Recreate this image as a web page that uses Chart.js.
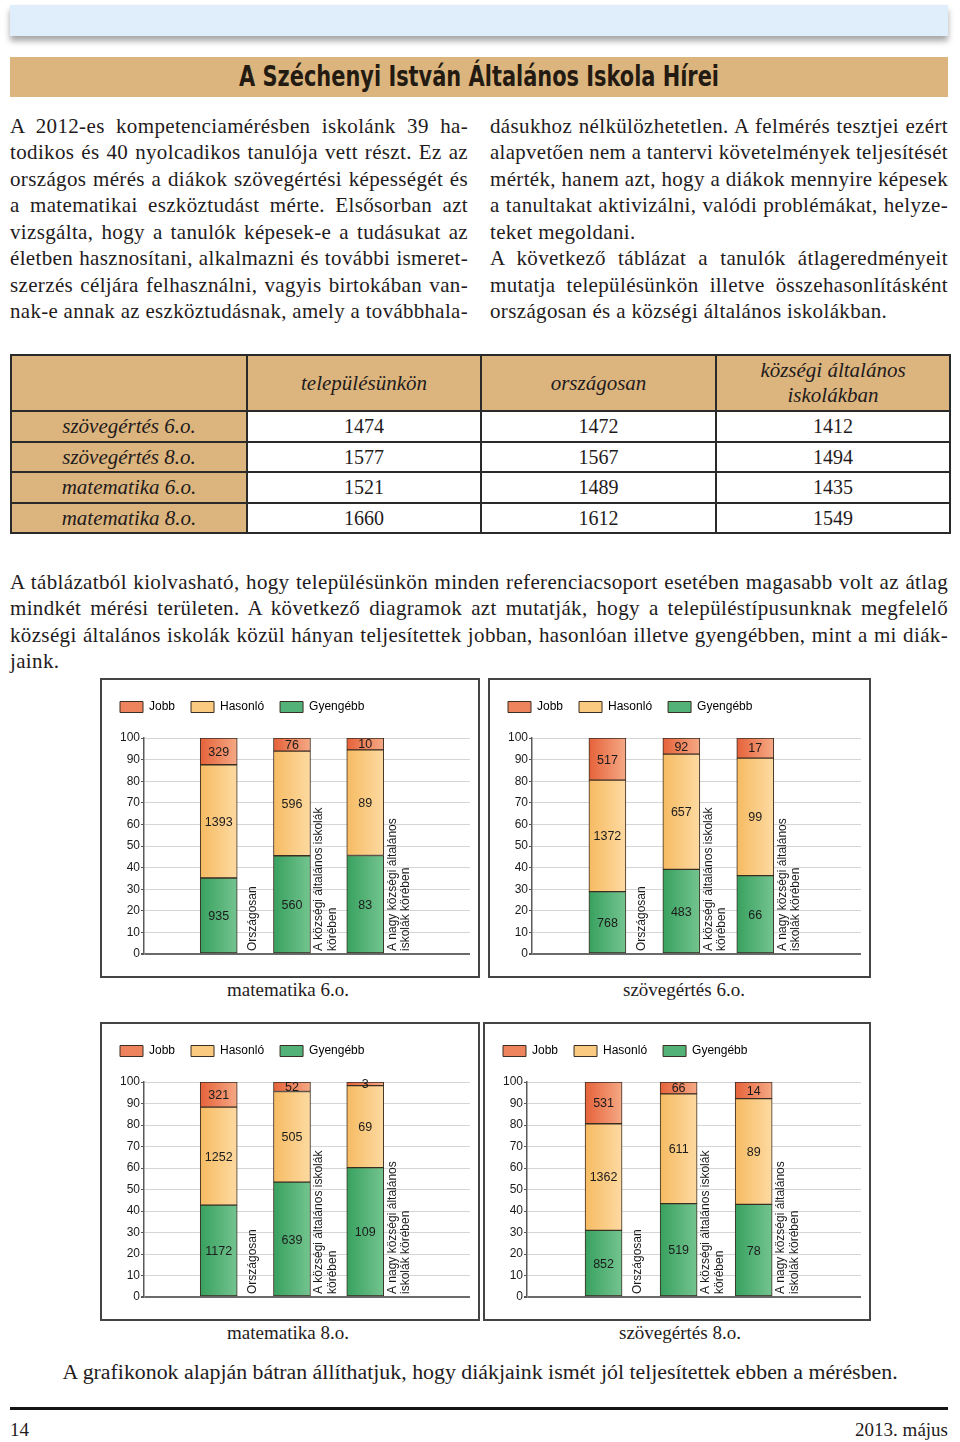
<!DOCTYPE html>
<html lang="hu">
<head>
<meta charset="utf-8"/>
<title>A Széchenyi István Általános Iskola Hírei</title>
<script src="https://cdn.jsdelivr.net/npm/chart.js"></script>
<style>
  html, body { margin: 0; padding: 0; background: #fff; }
  #page { position: relative; width: 960px; height: 1442px; overflow: hidden;
          font-family: "Liberation Serif", "DejaVu Serif", serif; color: #1f1b1c; }
  .abs { position: absolute; }
  #topbar { left: 10px; top: 5px; width: 938px; height: 31px; background: #dfeefa;
            box-shadow: 0 5px 6px rgba(0,0,0,0.35); }
  #titlebar { left: 10px; top: 57px; width: 938px; height: 40px; background: #dcb57e; text-align: center; }
  #titlebar span { font-family: "Liberation Sans Narrow", "DejaVu Sans Condensed", sans-serif; font-weight: bold;
                   font-size: 28px; line-height: 40px; color: #231a12; display: inline-block; white-space: nowrap; }
  .col { font-size: 21px; letter-spacing: 0.35px; }
  .ln { height: 26.5px; line-height: 26.5px; white-space: nowrap; }
  .ln span { display: inline-block; transform-origin: left center; }
  #tbl { left: 10px; top: 354px; border-collapse: collapse; table-layout: fixed; width: 939px; }
  #tbl td { border: 2px solid #2a2a2a; text-align: center; padding: 0; }
  #tbl tr.head td { background: #dcb57e; font-style: italic; font-size: 21px; height: 54px; line-height: 25px; white-space: pre-line; }
  #tbl tr.row td { font-size: 20px; height: 28.5px; line-height: 26px; }
  #tbl tr.row td.lab { background: #dcb57e; font-style: italic; font-size: 21px; }
  .box { border: 2px solid #444; background: #fff; }
  .box canvas { display: block; }
  .cap { width: 300px; text-align: center; font-size: 19px; line-height: 24px; white-space: nowrap; }
  #closing { left: 0; width: 960px; top: 1359px; text-align: center; font-size: 20px; line-height: 26px; }
  #closing span { display: inline-block; white-space: nowrap; }
  #rule { left: 10px; top: 1407px; width: 938px; height: 3px; background: #151515; }
  .foot { top: 1418px; font-size: 19px; line-height: 24px; }
</style>
</head>
<body>
<div id="page">
  <div id="topbar" class="abs"></div>
  <div id="titlebar" class="abs"><span id="title">A Széchenyi István Általános Iskola Hírei</span></div>

  <div class="abs col" style="left:10px; top:112.8px; width:458px;">
    <div class="ln j"><span>A 2012-es kompetenciamérésben iskolánk 39 ha-</span></div>
    <div class="ln j"><span>todikos és 40 nyolcadikos tanulója vett részt. Ez az</span></div>
    <div class="ln j"><span>országos mérés a diákok szövegértési képességét és</span></div>
    <div class="ln j"><span>a matematikai eszköztudást mérte. Elsősorban azt</span></div>
    <div class="ln j"><span>vizsgálta, hogy a tanulók képesek-e a tudásukat az</span></div>
    <div class="ln j"><span>életben hasznosítani, alkalmazni és további ismeret-</span></div>
    <div class="ln j"><span>szerzés céljára felhasználni, vagyis birtokában van-</span></div>
    <div class="ln j"><span>nak-e annak az eszköztudásnak, amely a továbbhala-</span></div>
  </div>
  <div class="abs col" style="left:490px; top:112.8px; width:458px;">
    <div class="ln j"><span>dásukhoz nélkülözhetetlen. A felmérés tesztjei ezért</span></div>
    <div class="ln j"><span>alapvetően nem a tantervi követelmények teljesítését</span></div>
    <div class="ln j"><span>mérték, hanem azt, hogy a diákok mennyire képesek</span></div>
    <div class="ln j"><span>a tanultakat aktivizálni, valódi problémákat, helyze-</span></div>
    <div class="ln"><span>teket megoldani.</span></div>
    <div class="ln j"><span>A következő táblázat a tanulók átlageredményeit</span></div>
    <div class="ln j"><span>mutatja településünkön illetve összehasonlításként</span></div>
    <div class="ln"><span>országosan és a községi általános iskolákban.</span></div>
  </div>

  <table id="tbl" class="abs"></table>

  <div class="abs col" style="left:10px; top:569px; width:938px;">
    <div class="ln j" style="height:26.3px"><span>A táblázatból kiolvasható, hogy településünkön minden referenciacsoport esetében magasabb volt az átlag</span></div>
    <div class="ln j" style="height:26.3px"><span>mindkét mérési területen. A következő diagramok azt mutatják, hogy a településtípusunknak megfelelő</span></div>
    <div class="ln j" style="height:26.3px"><span>községi általános iskolák közül hányan teljesítettek jobban, hasonlóan illetve gyengébben, mint a mi diák-</span></div>
    <div class="ln" style="height:26.3px"><span>jaink.</span></div>
  </div>

  <div class="abs box" style="left:100px; top:678px;"><canvas id="chartMat6" width="376" height="296"></canvas></div>
  <div class="abs box" style="left:488px; top:678px;"><canvas id="chartSzov6" width="379" height="296"></canvas></div>
  <div class="abs box" style="left:100px; top:1022px;"><canvas id="chartMat8" width="376" height="295"></canvas></div>
  <div class="abs box" style="left:483px; top:1022px;"><canvas id="chartSzov8" width="384" height="295"></canvas></div>

  <div class="abs cap" style="left:138px; top:978px;">matematika 6.o.</div>
  <div class="abs cap" style="left:534px; top:978px;">szövegértés 6.o.</div>
  <div class="abs cap" style="left:138px; top:1321px;">matematika 8.o.</div>
  <div class="abs cap" style="left:530px; top:1321px;">szövegértés 8.o.</div>

  <div id="closing" class="abs"><span id="closingText">A grafikonok alapján bátran állíthatjuk, hogy diákjaink ismét jól teljesítettek ebben a mérésben.</span></div>
  <div id="rule" class="abs"></div>
  <div class="abs foot" style="left:10px;">14</div>
  <div class="abs foot" style="right:12px;">2013. május</div>
</div>

<script>
// ---- table data ----
const tableHeaders = ['', 'településünkön', 'országosan', 'községi általános\niskolákban'];
const tableRows = ['szövegértés 6.o.', 'szövegértés 8.o.', 'matematika 6.o.', 'matematika 8.o.'];
const telepulesunkon = [1474, 1577, 1521, 1660];
const orszagosan = [1472, 1567, 1489, 1612];
const kozsegi = [1412, 1494, 1435, 1549];

// ---- chart data ----
const categories = ['Országosan', 'A községi általános iskolák körében', 'A nagy községi általános iskolák körében'];
const categoryLines = [['Országosan'], ['A községi általános iskolák', 'körében'], ['A nagy községi általános', 'iskolák körében']];

// number of pupils (labels on the segments)
const mat6Gyengebb = [935, 560, 83];
const mat6Hasonlo = [1393, 596, 89];
const mat6Jobb = [329, 76, 10];
const szov6Gyengebb = [768, 483, 66];
const szov6Hasonlo = [1372, 657, 99];
const szov6Jobb = [517, 92, 17];
const mat8Gyengebb = [1172, 639, 109];
const mat8Hasonlo = [1252, 505, 69];
const mat8Jobb = [321, 52, 3];
const szov8Gyengebb = [852, 519, 78];
const szov8Hasonlo = [1362, 611, 89];
const szov8Jobb = [531, 66, 14];

// segment heights in percent
const mat6GyengebbPct = [35.2, 45.5, 45.6];
const mat6HasonloPct = [52.4, 48.4, 48.9];
const mat6JobbPct = [12.4, 6.1, 5.5];
const szov6GyengebbPct = [28.9, 39.2, 36.3];
const szov6HasonloPct = [51.6, 53.3, 54.4];
const szov6JobbPct = [19.5, 7.5, 9.3];
const mat8GyengebbPct = [42.7, 53.4, 60.2];
const mat8HasonloPct = [45.6, 42.2, 38.1];
const mat8JobbPct = [11.7, 4.4, 1.7];
const szov8GyengebbPct = [31.0, 43.4, 43.1];
const szov8HasonloPct = [49.6, 51.1, 49.2];
const szov8JobbPct = [19.4, 5.5, 7.7];

const yTicks = [0, 10, 20, 30, 40, 50, 60, 70, 80, 90, 100];

// ---- table ----
(function buildTable() {
  const t = document.getElementById('tbl');
  let html = '<colgroup><col style="width:236px"><col style="width:234px"><col style="width:235px"><col style="width:234px"></colgroup>';
  html += '<tr class="head">' + tableHeaders.map(h => '<td>' + h + '</td>').join('') + '</tr>';
  tableRows.forEach((r, i) => {
    html += '<tr class="row"><td class="lab">' + r + '</td><td>' + telepulesunkon[i] + '</td><td>' +
      orszagosan[i] + '</td><td>' + kozsegi[i] + '</td></tr>';
  });
  t.innerHTML = html;
})();

// ---- justify text lines ----
document.querySelectorAll('.ln.j').forEach(function (line) {
  const span = line.firstElementChild;
  const target = line.getBoundingClientRect().width;
  const natural = span.getBoundingClientRect().width;
  const spaces = (span.textContent.match(/ /g) || []).length;
  if (natural <= target && spaces > 0) {
    span.style.wordSpacing = ((target - natural) / spaces) + 'px';
  } else if (natural > target) {
    span.style.transform = 'scaleX(' + (target / natural) + ')';
  }
});
document.querySelectorAll('.ln:not(.j)').forEach(function (line) {
  const span = line.firstElementChild;
  const target = line.getBoundingClientRect().width;
  const natural = span.getBoundingClientRect().width;
  if (natural > target) span.style.transform = 'scaleX(' + (target / natural) + ')';
});
function fitTo(el, w) {
  const natural = el.getBoundingClientRect().width;
  el.style.transform = 'scaleX(' + (w / natural) + ')';
}
fitTo(document.getElementById('title'), 480);
fitTo(document.getElementById('closingText'), 835);

// ---- charts ----
Chart.defaults.font.family = '"Liberation Sans", Arial, sans-serif';
Chart.defaults.font.size = 12;
Chart.defaults.color = '#1a1a1a';

const GREEN = ['#38a15f', '#74c490', '#52b277'];
const ORANGE = ['#f6bb62', '#fddaa2', '#f9ca80'];
const RED = ['#e6623a', '#f5a985', '#ee845d'];

function barFill(colors) {
  return function (c) {
    const chart = c.chart;
    const xs = chart.scales && chart.scales.x;
    if (!xs || !chart.chartArea || !c.raw) return colors[2];
    const px = xs.getPixelForValue(c.raw.x);
    if (!isFinite(px)) return colors[2];
    const g = chart.ctx.createLinearGradient(px - 18.5, 0, px + 18.5, 0);
    g.addColorStop(0, colors[0]);
    g.addColorStop(1, colors[1]);
    return g;
  };
}

const legendGap = {
  id: 'legendGap',
  beforeInit(chart) {
    const fit = chart.legend.fit;
    chart.legend.fit = function () {
      fit.call(this);
      this.height += 15;
    };
  }
};

const valueLabels = {
  id: 'valueLabels',
  afterDatasetsDraw(chart) {
    const ctx = chart.ctx;
    ctx.save();
    ctx.font = '12.5px "Liberation Sans", Arial, sans-serif';
    ctx.fillStyle = '#1b1b1b';
    ctx.textAlign = 'center';
    ctx.textBaseline = 'middle';
    chart.data.datasets.forEach((ds, di) => {
      chart.getDatasetMeta(di).data.forEach((bar, i) => {
        ctx.fillText(String(ds.counts[i]), bar.x, (bar.y + bar.base) / 2 + 1);
      });
    });
    ctx.restore();
  }
};

const catLabels = {
  id: 'catLabels',
  afterDatasetsDraw(chart, args, opts) {
    const ctx = chart.ctx;
    const meta = chart.getDatasetMeta(0);
    ctx.save();
    ctx.font = '12px "Liberation Sans", Arial, sans-serif';
    ctx.fillStyle = '#1b1b1b';
    ctx.textAlign = 'left';
    ctx.textBaseline = 'alphabetic';
    meta.data.forEach((bar, i) => {
      const lines = opts.lines[i];
      const cx = bar.x + bar.width / 2 + 15;
      lines.forEach((line, k) => {
        const bx = cx - lines.length * 13.5 / 2 + (k + 1) * 13.5 - 3;
        ctx.save();
        ctx.translate(bx, chart.chartArea.bottom - 3);
        ctx.rotate(-Math.PI / 2);
        ctx.fillText(line, 0, 0);
        ctx.restore();
      });
    });
    ctx.restore();
  }
};

function points(values) {
  return values.map((v, i) => ({ x: i + 1, y: v }));
}

function makeChart(id, gyPct, hasPct, jobbPct, gy, has, jobb) {
  const ds = (label, pct, counts, colors) => ({
    label: label,
    data: points(pct),
    counts: counts,
    legendColor: colors[2],
    backgroundColor: barFill(colors),
    borderColor: '#3a2d22',
    borderWidth: 1,
    borderSkipped: false,
    barThickness: 37
  });
  return new Chart(document.getElementById(id), {
    type: 'bar',
    data: {
      labels: categories,
      datasets: [
        ds('Gyengébb', gyPct, gy, GREEN),
        ds('Hasonló', hasPct, has, ORANGE),
        ds('Jobb', jobbPct, jobb, RED)
      ]
    },
    plugins: [legendGap, valueLabels, catLabels],
    options: {
      responsive: false,
      animation: false,
      events: [],
      layout: { padding: { top: 5, left: 2, right: 8, bottom: 22 } },
      plugins: {
        tooltip: { enabled: false },
        catLabels: { lines: categoryLines },
        legend: {
          position: 'top',
          align: 'start',
          reverse: true,
          labels: {
            boxWidth: 23,
            boxHeight: 11,
            padding: 16,
            color: '#1a1a1a',
            generateLabels: chart => chart.data.datasets.map((d, i) => ({
              text: d.label, fillStyle: d.legendColor, strokeStyle: '#3a2d22',
              lineWidth: 1, hidden: false, datasetIndex: i
            }))
          }
        }
      },
      scales: {
        x: { type: 'linear', display: false, stacked: true, offset: false, grace: 0,
             min: -0.02, max: 4.43, grid: { offset: false } },
        y: {
          stacked: true,
          min: 0,
          max: 100,
          afterFit: s => { s.width = 40; },
          afterBuildTicks: s => { s.ticks = yTicks.map(v => ({ value: v })); },
          ticks: { color: '#1a1a1a', padding: 1, font: { size: 12 } },
          grid: {
            color: c => (c.tick && c.tick.value === 0) ? '#6a6a6a' : '#d5d5d5',
            lineWidth: c => (c.tick && c.tick.value === 0) ? 2 : 1,
            tickLength: 3,
            tickColor: '#555'
          },
          border: { color: '#5a5a5a', width: 1.5 }
        }
      }
    }
  });
}

makeChart('chartMat6', mat6GyengebbPct, mat6HasonloPct, mat6JobbPct, mat6Gyengebb, mat6Hasonlo, mat6Jobb);
makeChart('chartSzov6', szov6GyengebbPct, szov6HasonloPct, szov6JobbPct, szov6Gyengebb, szov6Hasonlo, szov6Jobb);
makeChart('chartMat8', mat8GyengebbPct, mat8HasonloPct, mat8JobbPct, mat8Gyengebb, mat8Hasonlo, mat8Jobb);
makeChart('chartSzov8', szov8GyengebbPct, szov8HasonloPct, szov8JobbPct, szov8Gyengebb, szov8Hasonlo, szov8Jobb);
</script>
</body>
</html>
